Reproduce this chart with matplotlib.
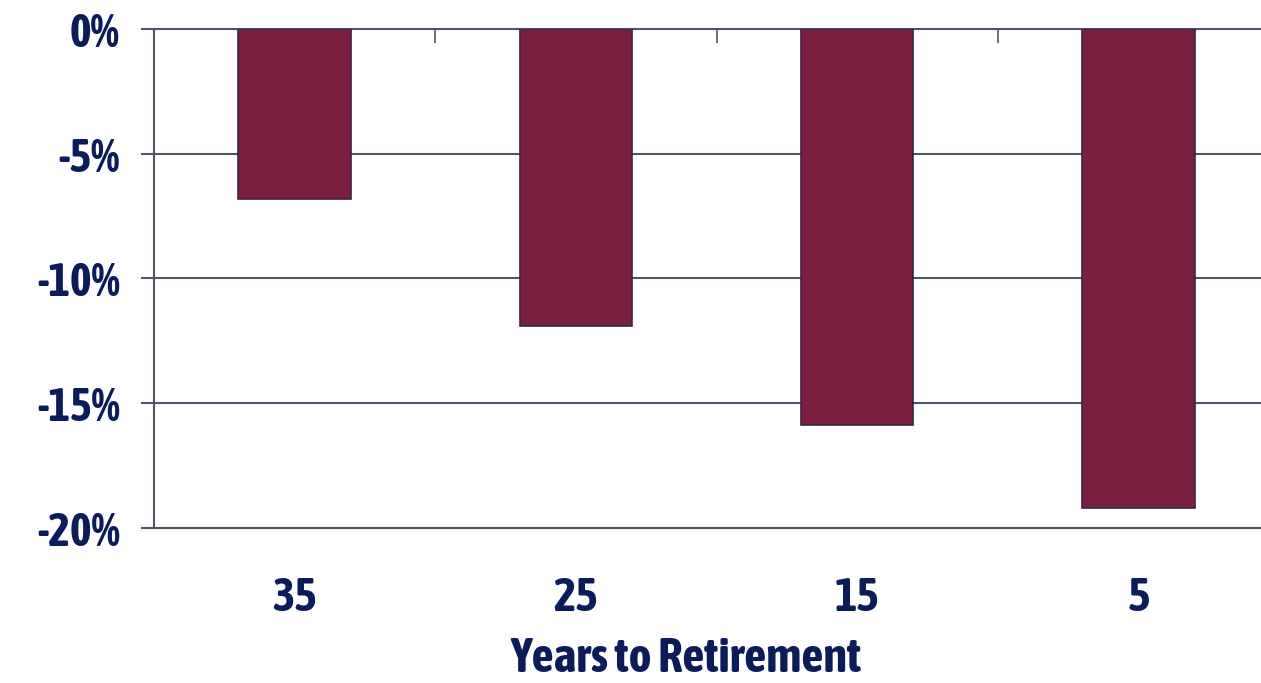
import numpy as np
import matplotlib
matplotlib.use("Agg")
import matplotlib.pyplot as plt

years = ["35", "25", "15", "5"]
change_pct = [-6.8, -11.9, -15.9, -19.2]
y_ticks = [0, -5, -10, -15, -20]
y_labels = ["0%", "-5%", "-10%", "-15%", "-20%"]

BAR = "#7a1e3f"
EDGE = "#3b2444"
GRID = "#4f5569"
TEXT = "#0c1c5a"


def main():
    plt.rcParams['font.family'] = ['Asap Condensed', 'DejaVu Sans']

    W, H = 1261, 683
    fig = plt.figure(figsize=(W / 100, H / 100), dpi=100)
    left, right, top, bottom = 154, 1279, 29, 527.7
    ax = fig.add_axes([left / W, 1 - bottom / H, (right - left) / W, (bottom - top) / H])

    x = np.arange(len(years))
    ax.bar(x, change_pct, width=0.4, color=BAR, edgecolor=EDGE, linewidth=1.2, zorder=3)

    ax.set_xlim(-0.5, len(years) - 0.5)
    ax.set_ylim(-20, 0)

    ax.set_yticks(y_ticks)
    ax.set_yticklabels(y_labels)
    for t in y_ticks[1:-1]:
        ax.axhline(t, color=GRID, linewidth=1.5, zorder=1)

    for s in ["top", "bottom", "left"]:
        ax.spines[s].set_color(GRID)
        ax.spines[s].set_linewidth(1.5)
    ax.spines["right"].set_visible(False)

    ax.set_xticks(x)
    ax.set_xticklabels(years)
    # small category separators hanging from the 0% line
    ax.set_xticks(x[:-1] + 0.5, minor=True)
    ax.tick_params(axis='x', which='major', length=0, pad=34, labelsize=34,
                   labelcolor=TEXT)
    ax.tick_params(axis='x', which='minor', bottom=False, top=True,
                   direction='in', length=10, width=1.2, color=GRID)
    ax.tick_params(axis='y', length=9.5, width=1.5, color=GRID, pad=15,
                   labelsize=33, labelcolor=TEXT)
    for lab in ax.get_xticklabels() + ax.get_yticklabels():
        lab.set_fontweight('bold')

    fig.text(686 / W, 1 - 672 / H, "Years to Retirement", ha='center', va='baseline',
             fontsize=35, fontweight='bold', color=TEXT)

    fig.savefig("out.png", dpi=100)


if __name__ == "__main__":
    main()
